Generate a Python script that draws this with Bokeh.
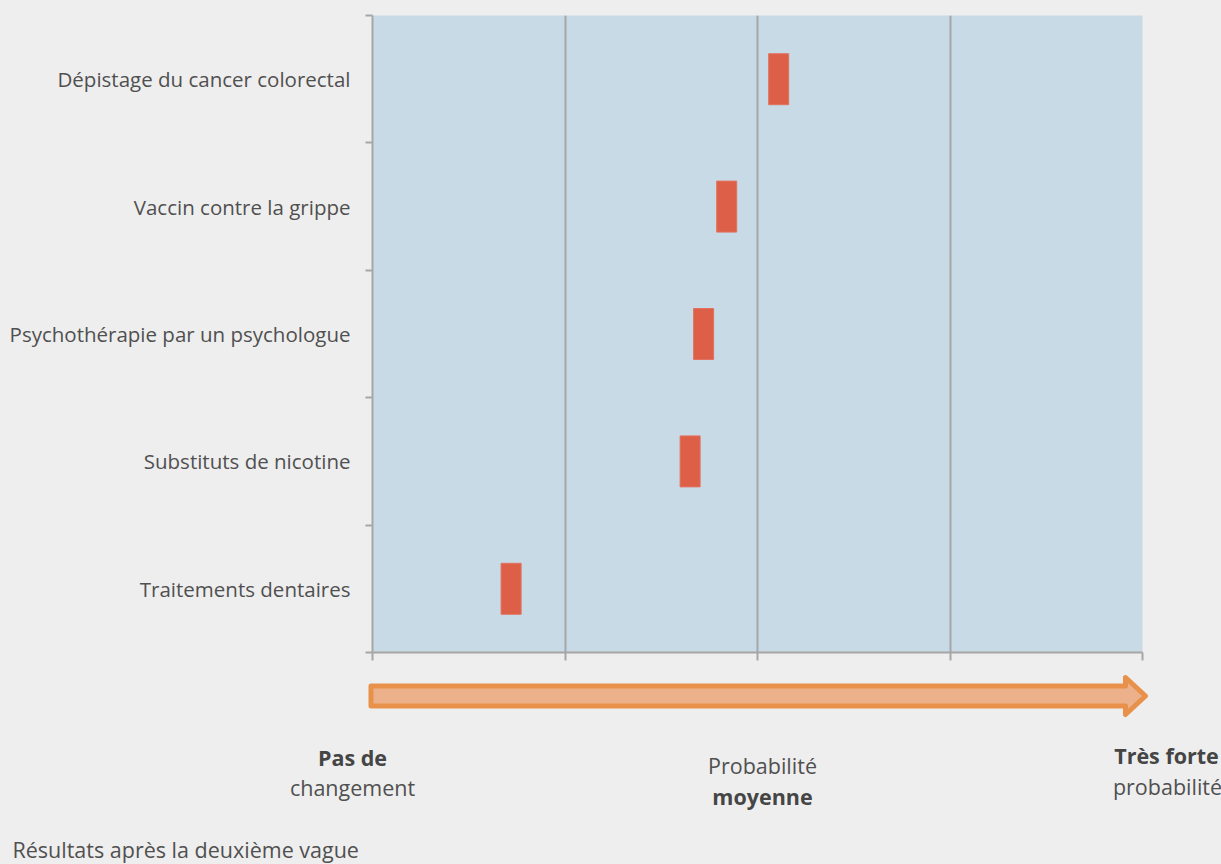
from bokeh.plotting import figure
from bokeh.layouts import column
from bokeh.models import FixedTicker, Range1d
from bokeh.core.properties import value
from bokeh.embed import file_html
from bokeh.resources import INLINE

# Items, bottom to top, and their estimated probability of change (0 = none, 4 = very strong)
items = [
    "Traitements dentaires",
    "Substituts de nicotine",
    "Psychothérapie par un psychologue",
    "Vaccin contre la grippe",
    "Dépistage du cancer colorectal",
]
scores = [0.72, 1.65, 1.72, 1.84, 2.11]
x_ticks = [0, 1, 2, 3, 4]

# scale legend under the chart
scale_labels = ["Pas de", "changement", "Probabilité", "moyenne", "Très forte", "probabilité"]
scale_bold = [True, False, False, True, True, False]
caption = "Résultats après la deuxième vague"

W, H = 1221, 864
LEFT, RIGHT, TOP = 372, 79, 15
FRAME_H = 637
TOP_H = TOP + FRAME_H + 20
FRAME_W = W - LEFT - RIGHT
UNIT = FRAME_W / 4.0

BG = "#eeeeee"
PANEL = "#c8dae5"
GRID = "#a6a6a6"
TEXT = "#505050"
BOLD_TEXT = "#454545"
FONT = "Open Sans"

p = figure(
    width=W, height=TOP_H, output_backend="svg", toolbar_location=None,
    x_range=Range1d(0, 4), y_range=Range1d(0, len(items)),
    min_border_left=LEFT, min_border_right=RIGHT,
    min_border_top=TOP, min_border_bottom=TOP_H - TOP - FRAME_H,
)
p.frame_align = False
p.background_fill_color = PANEL
p.border_fill_color = BG
p.outline_line_color = None

# category centres carry the labels, band edges carry the tick marks
centers = [i + 0.5 for i in range(len(items))]
p.yaxis.ticker = FixedTicker(ticks=centers, minor_ticks=list(range(len(items) + 1)))
p.yaxis.major_label_overrides = {c: name for c, name in zip(centers, items)}
p.yaxis.major_tick_out = 0
p.yaxis.major_tick_in = 0
p.yaxis.minor_tick_out = 7
p.yaxis.minor_tick_in = 0
p.yaxis.minor_tick_line_color = GRID
p.yaxis.minor_tick_line_width = 2
p.yaxis.major_label_standoff = 15
p.yaxis.major_label_text_font = FONT
p.yaxis.major_label_text_font_size = "20.5px"
p.yaxis.major_label_text_color = TEXT

p.xaxis.ticker = FixedTicker(ticks=x_ticks, minor_ticks=[])
p.xaxis.major_label_text_alpha = 0
p.xaxis.major_label_text_font_size = "1px"
p.xaxis.major_label_standoff = 0
p.xaxis.major_tick_out = 8
p.xaxis.major_tick_in = 0

for ax in (p.xaxis, p.yaxis):
    ax.axis_line_color = GRID
    ax.axis_line_width = 2
    ax.major_tick_line_color = GRID
    ax.major_tick_line_width = 2

p.ygrid.grid_line_color = None
p.xgrid.grid_line_color = GRID
p.xgrid.grid_line_width = 2
p.xgrid.ticker = FixedTicker(ticks=x_ticks)

p.rect(x=scores, y=centers, width=0.104, height=0.4,
       fill_color="#dd5f48", line_color="#e27160", line_width=1)

# lower panel: same horizontal scale as the chart, vertical in pixels from the top
BOT_H = H - TOP_H
q = figure(
    width=W, height=BOT_H, output_backend="svg", toolbar_location=None,
    x_range=Range1d(-LEFT / UNIT, (W - LEFT) / UNIT),
    y_range=Range1d(H, TOP_H),
    min_border=0, x_axis_type=None, y_axis_type=None,
)
q.frame_align = False
q.background_fill_color = BG
q.border_fill_color = BG
q.outline_line_color = None
q.grid.visible = False

def dx(px):
    return (px - LEFT) / UNIT

# scale arrow, from "no change" to "very strong"
ax_pts = [370.5, 1125, 1125, 1145, 1125, 1125, 370.5]
ay_pts = [685.5, 685.5, 677, 695.5, 714, 705.5, 705.5]
q.patch([dx(v) for v in ax_pts], ay_pts,
        fill_color="#ecb18a", line_color="#e8914a", line_width=5, line_join="round")

lx = [dx(v) for v in [352, 352, 762, 762, 1166, 1167]]
ly = [757, 787, 765, 796, 755, 786]
for t, x, y, b in zip(scale_labels, lx, ly, scale_bold):
    q.text([x], [y], text=[t], text_font=value(FONT), text_font_size="21.5px",
           text_font_style="bold" if b else "normal",
           text_color=BOLD_TEXT if b else TEXT,
           text_align="center", text_baseline="middle")

q.text([dx(12)], [849], text=[caption], text_font=value(FONT), text_font_size="21.5px",
       text_color=TEXT, text_align="left", text_baseline="middle")

layout = column(p, q, spacing=0, styles={"background-color": BG})
open("out.html", "w").write(file_html(layout, INLINE))
